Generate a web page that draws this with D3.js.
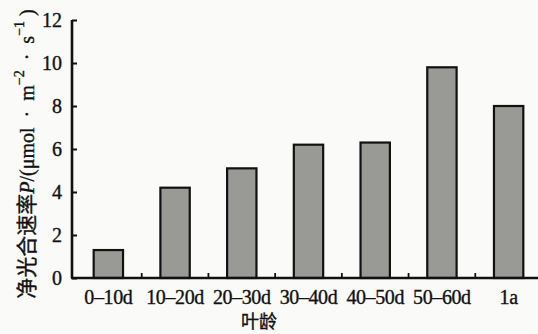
<!DOCTYPE html>
<html><head><meta charset="utf-8">
<script src="https://cdn.jsdelivr.net/npm/d3@7/dist/d3.min.js"></script>
<style>
html,body{margin:0;padding:0;background:#fafaf8;}
svg{display:block;}
text{font-family:"Liberation Serif","DejaVu Serif",serif;fill:#111;stroke:#111;stroke-width:0.35px;}
.cjk{font-family:"Noto Sans CJK SC","Noto Sans",sans-serif;}
</style></head><body>
<script>
const categories = ["0–10d","10–20d","20–30d","30–40d","40–50d","50–60d","1a"];
const values = [1.3, 4.2, 5.1, 6.2, 6.3, 9.8, 8.0];
const yTicks = [0, 2, 4, 6, 8, 10, 12];
const xTitle = "叶龄";

const W = 538, H = 334;
const svg = d3.select("body").append("svg").attr("width", W).attr("height", H);

const x = d3.scaleBand().domain(categories).range([75, 542]).paddingInner(0.56).paddingOuter(0.28);
const y = d3.scaleLinear().domain([0, 12]).range([278, 20]);
const x0 = 72;

// bars
svg.selectAll("rect.bar").data(values).join("rect")
  .attr("class","bar")
  .attr("x",(d,i)=>x(categories[i]))
  .attr("width",x.bandwidth())
  .attr("y",d=>y(d))
  .attr("height",d=>y(0)-y(d))
  .attr("fill","#999a96")
  .attr("stroke","#111")
  .attr("stroke-width",2.2);

// y axis
const yAxis = d3.axisLeft(y).tickValues(yTicks).tickSize(-5).tickPadding(10).tickFormat(d3.format("d"));
const gy = svg.append("g").attr("transform",`translate(${x0},0)`).call(yAxis);
gy.select(".domain").attr("stroke","#111").attr("stroke-width",2.6).attr("d",`M0,${y(12)}V${y(0)}`);
gy.selectAll(".tick line").attr("stroke","#111").attr("stroke-width",2);
gy.selectAll(".tick text").attr("font-size",20).attr("font-family","Liberation Serif").attr("fill","#111");

// x axis
svg.append("line").attr("x1",x0-1).attr("x2",W).attr("y1",y(0)).attr("y2",y(0))
  .attr("stroke","#111").attr("stroke-width",2.6);
const boundaries = categories.slice(0,-1).map(c=>x(c)-x.step()*x.paddingOuter()+x.step());
svg.selectAll("line.xt").data(boundaries).join("line").attr("class","xt")
  .attr("x1",d=>d).attr("x2",d=>d).attr("y1",y(0)).attr("y2",y(0)-5)
  .attr("stroke","#111").attr("stroke-width",1.8);
svg.selectAll("text.xl").data(categories).join("text").attr("class","xl")
  .attr("x",d=>x(d)+x.bandwidth()/2).attr("y",304)
  .attr("text-anchor","middle").attr("font-size",20).attr("letter-spacing",-0.4)
  .text(d=>d);

svg.append("text").attr("class","cjk").attr("x",259).attr("y",328)
  .attr("text-anchor","middle").attr("font-size",18).text(xTitle);

// y title
const yt = svg.append("text").attr("transform","translate(34,154) rotate(-90)")
  .attr("text-anchor","middle").attr("font-size",20);
yt.append("tspan").attr("class","cjk").attr("font-size",21).text("净光合速率");
yt.append("tspan").attr("font-style","italic").text("P");
yt.append("tspan").text("/(μmol\u00a0\u00a0·\u00a0\u00a0m");
yt.append("tspan").attr("font-size",14).attr("dy",-10).text("−2");
yt.append("tspan").attr("dy",10).text("\u00a0\u00a0·\u00a0\u00a0s");
yt.append("tspan").attr("font-size",14).attr("dy",-10).text("−1");
yt.append("tspan").attr("dy",10).text("\u00a0)");
</script>
</body></html>
